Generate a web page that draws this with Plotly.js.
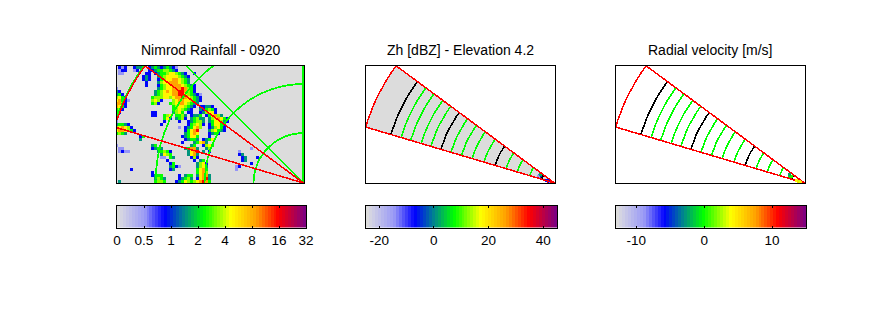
<!DOCTYPE html>
<html><head><meta charset="utf-8">
<script src="https://cdn.plot.ly/plotly-3.0.1.min.js"></script>
<style>html,body{margin:0;padding:0;background:#fff}#c{width:889px;height:333px}
.scatterlayer path,.main-svg .xlines-above,.main-svg .ylines-above{shape-rendering:crispEdges}</style>
</head><body><div id="c"></div>
<script>
// Panel titles and colour bar ticks
const panelTitles = ["Nimrod Rainfall - 0920", "Zh [dBZ] - Elevation 4.2", "Radial velocity [m/s]"];
const rainTickVals = [0,1,2,3,4,5,6,7];
const rainTickText = ["0","0.5","1","2","4","8","16","32"];
const zhTickVals = [-20,0,20,40];
const velTickVals = [-10,0,10];
const barRanges = [[0,7],[-24.8,45],[-13,15]];
const barLevels = [0,1,2,3,4,5,6,7,8,9,10,11,12,13,14,15,16,17,18,19,20,21,22,23,24,25,26,27,28,29,30,31,32,33,34,35,36,37,38,39,40,41,42,43,44,45,46,47,48,49,50,51,52,53,54,55,56,57,58,59,60,61,62,63];
const colourStops = [[0,"#dcdcdc"],[0.02,"#d2d2e4"],[0.14,"#9a9af6"],[0.25,"#0000ff"],[0.355,"#008a8a"],[0.458,"#00ff00"],[0.605,"#ffff00"],[0.737,"#ffa000"],[0.86,"#ff0000"],[1,"#800080"]];

// Rainfall field: each character is a colour-bar band class, '.' is no rain
const rainClassLevels = {".":0,"1":9,"2":16,"3":23,"4":29,"5":34,"6":39,"7":46,"8":54,"9":60};
const rainRows = [
".212..233..2343234321",
".122..12...2234455432",
".11.......22.23445665432..2",
".........232..34566665432",
".........232..24566776543",
"..........2...35667776543",
"..........2...2456677765432",
"1.............3456677787542",
"32...........34567677887542",
"342..........3456667788654321",
"5642........45556656778765432",
"67421.......5652...5677665432",
"7752........452...4567765433",
"7642...............45665432.22332",
"452................4565432..324542",
"42..........22.....3564.22..235662",
"3...........22..456.4453.2334.246753",
"2...............462.3452.34533.3567642",
"1...............2....2..234553.3466532",
"34432..........2........245652.246642",
"567652...............1.234675..235642",
"6776542................24678...356432",
"4543...................34676...2342",
"........24............234664...2",
"........3..............23443.2346",
"......................2...34673",
"1...........34...........34..2564",
".11.........2343.......34773..35.............1",
".1211.........34542.....3678.3.2.........1....",
"...............3654.....3673.............23",
"...............11.43.....252..............23...2",
".................2........2.34............23",
"..................24.......3562..............2",
"..................3421.....3563.........12",
".....2............23.......4674.........1",
"............2..............4675",
"............2344.....2.344.36773",
".............3543....23453.26783",
".3...........4554...234654567874"
];

// Polar overlays: bearing in degrees from north, radius in chart units
const arcBearings = [-90,-85,-80,-75,-70,-65,-60,-55,-50,-45,-40,-35,-30,-25,-20,-15,-10,-5,0];
const rainRings = [50,99,148,198];
const spokeBearings = [0,-45];
const spokeLength = 280;
const sectorBearings = [-73.5,-71,-68.5,-66,-63.5,-61,-58.5,-56,-53.5];
const sectorRadius = 197;
const greenRangeRings = [26,39,50.6,73.6,86,97,108,129,139,150,160];
const blackRangeRings = [13.5,62,118.5,170.6];

// Echoes close to the radar in the two sector panels
const zhEchoX = [-15,-14,-13,-16,-13,-14,-8,-7,-6,-5,-4];
const zhEchoY = [8,7,6,7,8,9,3,3,2,2,1];
const zhEchoLevel = [12,16,20,9,18,25,16,16,54,16,10];
const velEchoX = [-15,-14,-13,-15,-8,-6,-5,-4];
const velEchoY = [8,7,7,9,3,2,2,1];
const velEchoLevel = [29,27,30,24,38,42,36,40];

const W = 889, H = 333;
const plotBoxes = [[117,304],[366,555],[616,805]];
const barBoxes = [[117,306],[366,557],[616,806]];
const rad = d => d*Math.PI/180;
const polarX = (r,b) => r*Math.sin(rad(b));
const polarY = (r,b) => r*Math.cos(rad(b));
const domX = b => [b[0]/W, b[1]/W];
const domY = (t,bm) => [1-bm/H, 1-t/H];
const traces = [];

const rainZ = rainRows.map(row => {
  const out = [];
  for (let i=0;i<63;i++) out.push(rainClassLevels[row[i]||"."]);
  return out;
});
traces.push({type:"heatmap",xaxis:"x",yaxis:"y",z:rainZ,x0:-187.5,dx:3,y0:115.5,dy:-3,
  colorscale:colourStops,zmin:0,zmax:63,showscale:false,zsmooth:false,hoverinfo:"skip"});

function line(ax,x,y,color,width){
  traces.push({type:"scatter",mode:"lines",xaxis:"x"+ax,yaxis:"y"+ax,x,y,
    line:{color,width,shape:"linear"},showlegend:false,hoverinfo:"skip"});
}
// Panel 1 overlays
rainRings.forEach(r => line("",arcBearings.map(b=>polarX(r,b)),arcBearings.map(b=>polarY(r,b)),"#00ff00",1.7));
spokeBearings.forEach(b => line("",[0,polarX(spokeLength,b)],[0,polarY(spokeLength,b)],"#00ff00",b===0?3:1));

function sector(ax){
  const xs=[0].concat(sectorBearings.map(b=>polarX(sectorRadius,b)),[0]);
  const ys=[0].concat(sectorBearings.map(b=>polarY(sectorRadius,b)),[0]);
  line(ax,xs,ys,"#ff0000",1.5);
}
function rangeRings(ax){
  greenRangeRings.forEach(r=>line(ax,sectorBearings.map(b=>polarX(r,b)),sectorBearings.map(b=>polarY(r,b)),"#00ff00",1.6));
  blackRangeRings.forEach(r=>line(ax,sectorBearings.map(b=>polarX(r,b)),sectorBearings.map(b=>polarY(r,b)),"#000000",1.6));
}
sector("");
// Panel 2: grey sector fill
traces.push({type:"scatter",mode:"lines",xaxis:"x2",yaxis:"y2",
  x:[0].concat(sectorBearings.map(b=>polarX(sectorRadius,b)),[0]),
  y:[0].concat(sectorBearings.map(b=>polarY(sectorRadius,b)),[0]),
  fill:"toself",fillcolor:"#dcdcdc",line:{width:0},showlegend:false,hoverinfo:"skip"});
function echoes(ax,x,y,levels){
  traces.push({type:"scatter",mode:"markers",xaxis:"x"+ax,yaxis:"y"+ax,x,y,
    marker:{symbol:"square",size:3,color:levels,colorscale:colourStops,cmin:0,cmax:63,line:{width:0}},
    showlegend:false,hoverinfo:"skip"});
}
echoes("2",zhEchoX,zhEchoY,zhEchoLevel);
rangeRings("2"); sector("2");
rangeRings("3"); sector("3");
echoes("3",velEchoX,velEchoY,velEchoLevel);

// Colour bars
barRanges.forEach((rg,i)=>{
  const n=i+4, d=(rg[1]-rg[0])/barLevels.length;
  traces.push({type:"heatmap",xaxis:"x"+n,yaxis:"y"+n,z:[barLevels],x0:rg[0]+d/2,dx:d,y0:0.5,dy:1,
    colorscale:colourStops,zmin:0,zmax:63,showscale:false,zsmooth:false,hoverinfo:"skip"});
});

const layout = {width:W,height:H,margin:{l:0,r:0,t:0,b:0},paper_bgcolor:"#fff",plot_bgcolor:"#fff",
  showlegend:false,font:{family:"Liberation Sans, Arial, sans-serif",size:14,color:"#000"},annotations:[]};
const frame = {showline:true,linecolor:"#000",linewidth:1,mirror:true,showgrid:false,zeroline:false,fixedrange:true};
plotBoxes.forEach((b,i)=>{
  const k=i===0?"":String(i+1);
  layout["xaxis"+k]=Object.assign({},frame,{domain:domX(b),range:[-(b[1]-b[0])+0.5,0.5],anchor:"y"+k,showticklabels:false,ticks:""});
  layout["yaxis"+k]=Object.assign({},frame,{domain:domY(66,183),range:[0,117],anchor:"x"+k,showticklabels:false,ticks:""});
  layout.annotations.push({xref:"paper",yref:"paper",x:(([116,365,615][i]+[305,555,805][i])/2)/W,y:1-50/H,xanchor:"center",yanchor:"middle",
    text:panelTitles[i],showarrow:false,font:{size:14,family:"Liberation Sans, Arial, sans-serif",color:"#000"}});
});
const tickSets=[[rainTickVals,rainTickText],[zhTickVals,zhTickVals.map(String)],[velTickVals,velTickVals.map(String)]];
barBoxes.forEach((b,i)=>{
  const n=i+4;
  layout["xaxis"+n]=Object.assign({},frame,{domain:domX(b),range:barRanges[i],anchor:"y"+n,mirror:"ticks",ticks:"inside",ticklen:2,tickwidth:1,tickcolor:"#000",
    tickmode:"array",tickvals:tickSets[i][0],ticktext:tickSets[i][1],tickfont:{size:13.5,family:"Liberation Sans, Arial, sans-serif",color:"#000"}});
  layout["yaxis"+n]=Object.assign({},frame,{domain:domY(206,227.5),range:[0,1],anchor:"x"+n,showticklabels:false,ticks:""});
});
Plotly.newPlot("c",traces,layout,{displayModeBar:false,staticPlot:true});
</script></body></html>
